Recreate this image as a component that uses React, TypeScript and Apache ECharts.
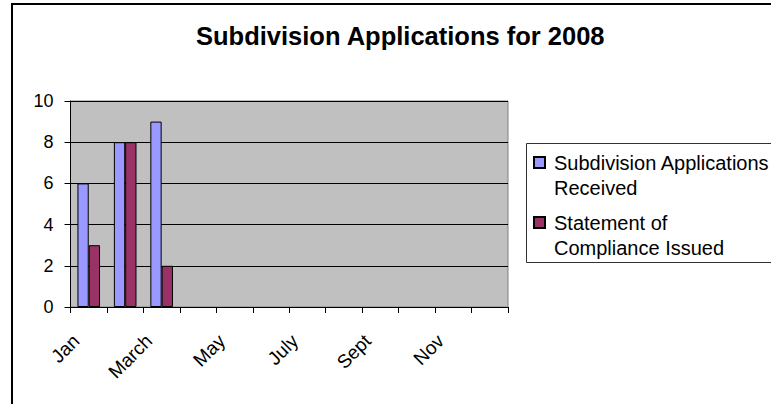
import React, { useEffect, useRef } from "react";
import * as echarts from "echarts";

const months = ["Jan", "Feb", "March", "April", "May", "June", "July", "Aug", "Sept", "Oct", "Nov", "Dec"];
const received = [6, 8, 9, null, null, null, null, null, null, null, null, null];
const compliance = [3, 8, 2, null, null, null, null, null, null, null, null, null];
const yTicks = [0, 2, 4, 6, 8, 10];
const titleText = "Subdivision Applications for 2008";
const seriesNames = ["Subdivision Applications\nReceived", "Statement of\nCompliance Issued"];

const FONT = "Arial, 'Liberation Sans', sans-serif";

export default function App() {
  const ref = useRef<HTMLDivElement>(null);
  useEffect(() => {
    if (!ref.current) return;
    const chart = echarts.init(ref.current, null, { renderer: "svg" });
    chart.setOption({
      animation: false,
      backgroundColor: "#ffffff",
      title: {
        text: titleText,
        left: 196,
        top: 23,
        padding: 0,
        textStyle: { fontFamily: FONT, fontSize: 25.5, fontWeight: "bold", color: "#000" },
      },
      graphic: [
        {
          type: "rect",
          shape: { x: 12, y: 4, width: 900, height: 600 },
          style: { fill: "none", stroke: "#000", lineWidth: 2 },
          silent: true,
        },
        {
          type: "rect",
          shape: { x: 526.5, y: 143.5, width: 400, height: 119 },
          style: { fill: "#fff", stroke: "#333", lineWidth: 1 },
          silent: true,
          z: -1,
        },
      ],
      legend: {
        orient: "vertical",
        left: 533,
        top: 150,
        padding: 0,
        itemGap: 10,
        itemWidth: 11,
        itemHeight: 36,
        icon: "path://M0 0H11V11H0Z M0 36Z",
        textStyle: { fontFamily: FONT, fontSize: 20, color: "#000", lineHeight: 25, padding: [0, 0, 0, 4] },
        data: seriesNames,
      },
      grid: {
        left: 70.5,
        right: 263,
        top: 101,
        bottom: 97,
        show: true,
        backgroundColor: "#C0C0C0",
        borderColor: "#808080",
        borderWidth: 1,
      },
      xAxis: {
        type: "category",
        data: months,
        axisLine: { lineStyle: { color: "#000", width: 1 } },
        axisTick: { show: true, length: 6, interval: 0, lineStyle: { color: "#000" } },
        axisLabel: {
          interval: 1,
          rotate: 45,
          margin: 18,
          padding: [0, 18, 0, 0],
          fontFamily: FONT,
          fontSize: 19,
          color: "#000",
        },
      },
      yAxis: {
        type: "value",
        min: 0,
        max: 10,
        interval: 2,
        axisLine: { show: true, lineStyle: { color: "#000", width: 1 } },
        axisTick: { show: true, length: 6, lineStyle: { color: "#000" } },
        axisLabel: {
          margin: 17,
          fontFamily: FONT,
          fontSize: 18,
          color: "#000",
          formatter: (v: number) => (yTicks.includes(v) ? String(v) : ""),
        },
        splitLine: { show: true, lineStyle: { color: "#000", width: 1 } },
      },
      series: [
        {
          name: seriesNames[0],
          type: "bar",
          data: received,
          barGap: "0%",
          barCategoryGap: "38%",
          itemStyle: { color: "#9999FF", borderColor: "#000", borderWidth: 1 },
        },
        {
          name: seriesNames[1],
          type: "bar",
          data: compliance,
          barGap: "0%",
          barCategoryGap: "38%",
          itemStyle: { color: "#993366", borderColor: "#000", borderWidth: 1 },
        },
      ],
    });
    return () => chart.dispose();
  }, []);
  return (
    <div
      ref={ref}
      style={{ position: "absolute", left: 0, top: 0, width: 771, height: 404 }}
    />
  );
}
